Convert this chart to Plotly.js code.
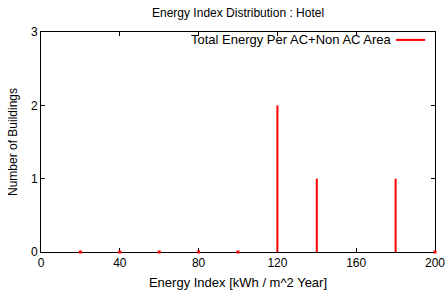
<!DOCTYPE html>
<html><head><meta charset="utf-8">
<script src="https://cdn.plot.ly/plotly-3.0.1.min.js"></script>
<style>html,body{margin:0;padding:0;background:#fff;}#chart{width:445px;height:292px;}</style>
</head><body><div id="chart"></div>
<script>
const energyIndex = [20, 40, 60, 80, 100, 120, 140, 180, 200];
const buildings   = [0, 0, 0, 0, 0, 2, 1, 1, 0];
const xTicks = [0, 40, 80, 120, 160, 200];
const yTicks = [0, 1, 2, 3];
const seriesName = 'Total Energy Per AC+Non AC Area';

const lx = [], ly = [];
energyIndex.forEach((x, i) => { lx.push(x, x, null); ly.push(0, buildings[i], null); });
const zx = energyIndex.filter((x, i) => buildings[i] === 0);
const zy = zx.map(() => 0);

const font = {family: 'Liberation Sans, Arial, sans-serif', size: 12, color: '#000'};
const font13 = {family: 'Liberation Sans, Arial, sans-serif', size: 13, color: '#000'};
const data = [
  {x: lx, y: ly, mode: 'lines', line: {color: '#ff0000', width: 2}, showlegend: false, hoverinfo: 'skip', cliponaxis: false},
  {x: zx, y: zy, mode: 'markers', marker: {color: '#ff0000', size: 3, symbol: 'square'}, showlegend: false, cliponaxis: false}
];
const layout = {
  width: 445, height: 292,
  margin: {l: 41, r: 10, t: 32, b: 40},
  paper_bgcolor: '#fff', plot_bgcolor: '#fff',
  font: font,
  title: {text: 'Energy Index Distribution : Hotel', font: font, x: 0.535, xanchor: 'center', y: 0.955, yanchor: 'middle'},
  xaxis: {range: [0, 200], tickvals: xTicks, ticks: 'inside', ticklen: 4, tickcolor: '#000', ticklabeloverflow: 'allow',
    showline: true, mirror: 'ticks', linecolor: '#000', linewidth: 1, showgrid: false, zeroline: false, layer: 'below traces',
    title: {text: 'Energy Index [kWh / m^2 Year]', font: font13, standoff: 8}, tickfont: font},
  yaxis: {range: [0, 3], tickvals: yTicks, ticks: 'inside', ticklen: 4, tickcolor: '#000',
    showline: true, mirror: 'ticks', linecolor: '#000', linewidth: 1, showgrid: false, zeroline: false, layer: 'below traces',
    title: {text: 'Number of Buildings', font: font, standoff: 10}, tickfont: font},
  annotations: [{text: seriesName, xref: 'paper', yref: 'paper', x: 0.895, y: 0.964, xanchor: 'right', yanchor: 'middle', showarrow: false, font: font13}],
  shapes: [{type: 'line', xref: 'paper', yref: 'paper', x0: 0.901, x1: 0.975, y0: 0.964, y1: 0.964, line: {color: '#ff0000', width: 2}}]
};
Plotly.newPlot('chart', data, layout, {displayModeBar: false, staticPlot: true});
</script></body></html>
